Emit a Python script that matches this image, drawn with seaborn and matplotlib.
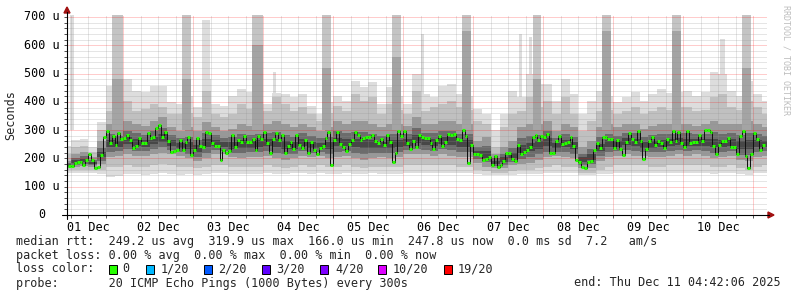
import numpy as np
import matplotlib
matplotlib.use("Agg")
import matplotlib.pyplot as plt
from matplotlib.ticker import MultipleLocator, FuncFormatter, NullFormatter
from matplotlib.lines import Line2D
from matplotlib.patches import Polygon, Rectangle
import seaborn as sns

# ---------------- data ----------------
# hourly median RTT (microseconds), Dec 01 05:00 .. Dec 11 04:00
median_us = [
    173, 172, 183, 186, 189, 176, 194, 216, 194, 165, 168, 211, 275, 297, 256, 279, 249, 289, 270, 272,
    284, 265, 237, 244, 272, 256, 256, 291, 273, 276, 306, 319, 277, 293, 263, 223, 227, 230, 264, 230,
    258, 277, 212, 230, 272, 244, 240, 293, 289, 253, 243, 243, 193, 230, 220, 227, 284, 239, 265,
    259, 280, 259, 259, 270, 229, 279, 270, 293, 253, 220, 270, 290, 264, 284, 220, 243, 258, 232, 282,
    249, 237, 264, 218, 257, 230, 216, 236, 244, 272, 295, 177, 265, 292, 251, 239, 225, 251, 265, 292,
    282, 264, 272, 277, 277, 284, 260, 253, 267, 249, 282, 258, 189, 218, 297, 279, 297, 256, 235, 260,
    240, 282,
    275, 273, 273, 256, 235, 265, 279, 244, 258, 286, 283, 285, 270, 265, 299, 280, 183, 246, 214, 214,
    213, 194, 199, 206, 176, 209, 171, 178, 190, 220, 220, 198, 190, 249, 216, 224, 230, 242, 277, 284,
    265, 280, 275, 286, 220, 218, 260, 279, 252, 256, 258, 275, 244, 194, 187, 168, 165, 189, 192, 229,
    253,
    238, 276, 276, 267, 267, 237, 264, 233, 211, 259, 290, 269, 258, 296, 263, 199, 232, 262, 275, 249,
    260, 253, 238, 270, 259, 298, 263, 293, 253, 242, 296, 256, 257, 257, 283, 263, 299, 299, 292, 244,
    216, 249, 263, 263, 272, 239, 240, 216, 279, 298, 209, 166, 216, 290, 267, 229, 246,
]

# smoke (ping distribution) in 3-hour bins starting Dec 01 03:00
smoke_top = [245, 265, 269, 239, 330, 457, 487, 481, 440, 434,
             457, 457, 398, 392, 420, 381, 480, 392, 387, 422,
             445, 434, 420, 392, 430, 428, 416, 428, 387, 357,
             400, 422, 404, 475, 451, 469, 392, 451, 420, 392,
             498, 428, 416, 457, 463, 428, 420, 375, 357, 300,
             357, 440, 416, 498, 463, 463, 404, 481, 428, 357,
             404, 440, 420, 398, 416, 434, 404, 428, 445, 430,
             434, 440, 422, 434, 504, 498, 440, 420, 475, 428,
             404]
smoke_p90 = [216, 239, 245, 222, 300, 369, 357, 404, 369, 375,
             392, 381, 357, 357, 360, 345, 440, 357, 345, 357,
             392, 375, 370, 369, 416, 392, 369, 381, 357, 334,
             360, 387, 369, 428, 404, 416, 357, 392, 370, 357,
             440, 369, 381, 392, 404, 381, 370, 334, 322, 240,
             310, 357, 369, 416, 381, 404, 357, 416, 357, 298,
             334, 369, 370, 357, 369, 381, 357, 369, 381, 370,
             381, 381, 369, 370, 416, 428, 381, 370, 404, 381,
             357]
smoke_p75 = [192, 216, 222, 204, 260, 322, 310, 334, 322, 316,
             334, 345, 310, 298, 310, 298, 330, 310, 298, 304,
             322, 316, 320, 322, 334, 322, 310, 322, 310, 298,
             310, 334, 322, 334, 334, 322, 310, 322, 320, 316,
             345, 322, 322, 334, 334, 322, 320, 263, 275, 215,
             239, 263, 310, 322, 322, 334, 298, 322, 310, 239,
             263, 310, 320, 310, 322, 322, 304, 316, 322, 320,
             322, 322, 316, 320, 334, 322, 322, 320, 334, 322,
             310]
smoke_p25 = [166, 168, 172, 170, 180, 205, 210, 215, 210, 210,
             215, 220, 215, 210, 200, 190, 200, 215, 215, 205,
             200, 205, 205, 210, 200, 195, 200, 210, 205, 210,
             200, 205, 210, 200, 195, 200, 205, 200, 205, 215,
             215, 215, 210, 215, 210, 205, 205, 185, 170, 165,
             165, 175, 180, 185, 195, 205, 210, 205, 200, 165,
             165, 190, 205, 210, 215, 210, 210, 205, 205, 210,
             215, 210, 215, 210, 200, 205, 210, 195, 190, 205,
             210]
smoke_p10 = [158, 158, 160, 160, 160, 170, 170, 175, 170, 170,
             175, 180, 175, 170, 170, 165, 170, 175, 175, 170,
             170, 170, 170, 175, 170, 165, 170, 175, 170, 175,
             170, 170, 175, 170, 165, 170, 170, 170, 170, 175,
             175, 175, 175, 175, 175, 170, 170, 160, 155, 150,
             150, 155, 160, 160, 165, 170, 175, 170, 170, 150,
             150, 160, 170, 175, 175, 175, 175, 170, 170, 175,
             175, 175, 175, 175, 170, 170, 175, 165, 160, 170,
             175]
smoke_min = [150, 148, 148, 150, 145, 135, 138, 145, 145, 142,
             145, 148, 145, 142, 145, 142, 145, 148, 148, 145,
             145, 145, 145, 148, 145, 145, 148, 148, 145, 148,
             145, 145, 148, 145, 145, 148, 145, 145, 145, 148,
             150, 150, 150, 150, 150, 148, 148, 145, 142, 140,
             140, 142, 145, 145, 145, 148, 150, 148, 148, 140,
             140, 145, 145, 150, 150, 150, 150, 148, 148, 150,
             150, 150, 150, 148, 145, 148, 150, 145, 140, 148,
             150]

# short bursts of high RTT (hours since Dec 01 00:00)
spike_start = [5.8, 20.2, 44.2, 51.1, 68.2, 75.4, 92.2, 116.2, 126.2, 140.2, 159.8, 163.2, 164.6, 188.2, 212.2, 228.7, 236.2]
spike_end   = [7.2, 24.0, 47.3, 53.8, 72.0, 76.5, 95.3, 119.3, 127.2, 143.3, 160.8, 164.2, 167.3, 191.3, 215.3, 230.4, 239.3]
spike_top   = [720, 720, 720, 690, 720, 505, 720, 720, 640, 720, 640, 628, 720, 720, 720, 622, 720]
spike_p90   = [0, 720, 720, 0, 720, 0, 720, 720, 0, 720, 0, 0, 720, 720, 720, 0, 720]
spike_p75   = [0, 480, 480, 0, 600, 0, 520, 560, 0, 650, 0, 0, 480, 650, 650, 0, 520]

day_labels = ["01 Dec", "02 Dec", "03 Dec", "04 Dec", "05 Dec",
              "06 Dec", "07 Dec", "08 Dec", "09 Dec", "10 Dec"]
y_ticks = [0, 100, 200, 300, 400, 500, 600, 700]

legend_row1 = "median rtt:  249.2 us avg  319.9 us max  166.0 us min  247.8 us now  0.0 ms sd  7.2   am/s"
legend_row2 = "packet loss: 0.00 % avg  0.00 % max  0.00 % min  0.00 % now"
loss_labels = ["0", "1/20", "2/20", "3/20", "4/20", "10/20", "19/20"]
loss_colors = ["#26ff00", "#00b8ff", "#0059ff", "#5e00ff", "#7e00ff", "#dd00ff", "#ff0000"]
probe_text = "probe:       20 ICMP Echo Pings (1000 Bytes) every 300s"
end_text = "end: Thu Dec 11 04:42:06 2025"

# ---------------- style ----------------
sns.set_theme(style="white")
plt.rcParams['font.family'] = ['DejaVu Sans Mono', 'DejaVu Sans']
plt.rcParams['font.size'] = 8.5

W, H = 797, 297
fig = plt.figure(figsize=(W / 100, H / 100), dpi=100)
fig.patch.set_facecolor('white')


def fx(x):
    return x / W


def fy(y):
    return 1 - y / H


AX_L, AX_R, AX_T, AX_B = 67.0, 767.0, 15.0, 215.0
ax = fig.add_axes([fx(AX_L), fy(AX_B), (AX_R - AX_L) / W, (AX_B - AX_T) / H])
ax.set_facecolor('white')

T_START = 4 + 42 / 60 + 6 / 3600
ax.set_xlim(T_START, T_START + 240)
ax.set_ylim(0, 707)

# ---------------- smoke ----------------
n_bins = len(smoke_top)
edges = 3.0 + 3.0 * np.arange(n_bins + 1)
p25 = np.array(smoke_p25, float)
p75 = np.array(smoke_p75, float)
span = p75 - p25

ss = np.array(spike_start)
se = np.array(spike_end)
st = np.array(spike_top, float)
s90 = np.array(spike_p90, float)
s75 = np.array(spike_p75, float)

ax.stairs(smoke_top, edges, baseline=smoke_min, fill=True, color='#dddddd', lw=0)
ax.bar(ss, st - 300, width=se - ss, bottom=300, align='edge', color='#dddddd', lw=0)

ax.stairs(smoke_p90, edges, baseline=smoke_p10, fill=True, color='#c0c0c0', lw=0)
m = s90 > 0
ax.bar(ss[m], s90[m] - 300, width=(se - ss)[m], bottom=300, align='edge', color='#c4c4c4', lw=0)

ax.stairs(p75, edges, baseline=p25, fill=True, color='#989898', lw=0)
m = s75 > 0
ax.bar(ss[m], s75[m] - 300, width=(se - ss)[m], bottom=300, align='edge', color='#a4a4a4', lw=0)

ax.stairs(p75 - 0.30 * span, edges, baseline=p25 + 0.15 * span, fill=True, color='#6c6c6c', lw=0)
ax.stairs(p75 - 0.48 * span, edges, baseline=p25 + 0.30 * span, fill=True, color='#474747', lw=0)

# ---------------- median ----------------
hours = 5.5 + np.arange(len(median_us))
sns.lineplot(x=hours, y=median_us, drawstyle='steps-mid', color='#111111', linewidth=0.72,
             estimator=None, ax=ax, zorder=3)
ax.hlines(median_us, hours - 0.5, hours + 0.5, colors='#26ff00', linewidth=2.2, zorder=4,
          capstyle='butt')

# ---------------- grid & ticks ----------------
ax.xaxis.set_major_locator(MultipleLocator(24))
ax.xaxis.set_minor_locator(MultipleLocator(6))
ax.yaxis.set_major_locator(MultipleLocator(100))
ax.yaxis.set_minor_locator(MultipleLocator(20))
ax.xaxis.set_major_formatter(NullFormatter())


def day_fmt(v, pos):
    if abs(v % 24 - 12) < 1e-6:
        i = int(v // 24)
        if 0 <= i < len(day_labels):
            return day_labels[i]
    return ''


ax.xaxis.set_minor_formatter(FuncFormatter(day_fmt))
ax.set_axisbelow(False)
ax.grid(which='major', color='#ff0000', alpha=0.40, linestyle=(0, (1, 1)), linewidth=0.72)
ax.grid(which='minor', color='#909090', alpha=0.45, linestyle=(0, (1, 1)), linewidth=0.72)
ax.tick_params(axis='both', which='both', direction='out', length=2, width=0.6,
               color='#333333', bottom=True, left=True, top=False, right=False)
ax.tick_params(axis='x', which='minor', pad=2, labelsize=8.5, labelcolor='black')
ax.tick_params(axis='y', which='both', labelleft=False)
for s in ax.spines.values():
    s.set_visible(False)
ax.set_xlabel('')
ax.set_ylabel('')

for v in y_ticks:
    lab = "0" if v == 0 else f"{v} u"
    right_px = 59.3 if v else 45.1
    ax.text((right_px - AX_L) / (AX_R - AX_L), v, lab, transform=ax.get_yaxis_transform(),
            ha='right', va='center', fontsize=8.5, color='black', clip_on=False)

# axis lines with arrows
fig.add_artist(Line2D([fx(62), fx(769)], [fy(AX_B), fy(AX_B)], color='black', lw=0.8,
                      transform=fig.transFigure))
fig.add_artist(Line2D([fx(AX_L), fx(AX_L)], [fy(219), fy(12)], color='black', lw=0.8,
                      transform=fig.transFigure))
fig.add_artist(Polygon([[fx(768), fy(212)], [fx(768), fy(218)], [fx(774), fy(215)]],
                       closed=True, color='#a01010', transform=fig.transFigure))
fig.add_artist(Polygon([[fx(64), fy(13)], [fx(70), fy(13)], [fx(67), fy(7)]],
                       closed=True, color='#a01010', transform=fig.transFigure))

# ---------------- texts ----------------
fig.text(fx(11), fy(115), "Seconds", rotation=90, ha='center', va='center', fontsize=8.5)
fig.text(fx(786), fy(5), "RRDTOOL / TOBI OETIKER", rotation=270, ha='center', va='top',
         fontsize=6, color='#bdbdbd')

fig.text(fx(16), fy(241), legend_row1, ha='left', va='center', fontsize=8.5)
fig.text(fx(16), fy(255), legend_row2, ha='left', va='center', fontsize=8.5)
fig.text(fx(16), fy(269), "loss color:", ha='left', va='center', fontsize=8.5)
box_x = [109, 146, 204, 262, 320, 378, 444]
lab_x = [122, 161, 218, 276, 335, 393, 458]
for bx, lx, lab, col in zip(box_x, lab_x, loss_labels, loss_colors):
    fig.add_artist(Rectangle((fx(bx), fy(273.5)), 8 / W, 9 / H, facecolor=col,
                             edgecolor='black', lw=0.7, transform=fig.transFigure))
    fig.text(fx(lx), fy(269), lab, ha='left', va='center', fontsize=8.5)
fig.text(fx(16), fy(283), probe_text, ha='left', va='center', fontsize=8.5)
fig.text(fx(781), fy(283), end_text, ha='right', va='center', fontsize=8.5)

fig.savefig("out.png", dpi=100, facecolor='white')
